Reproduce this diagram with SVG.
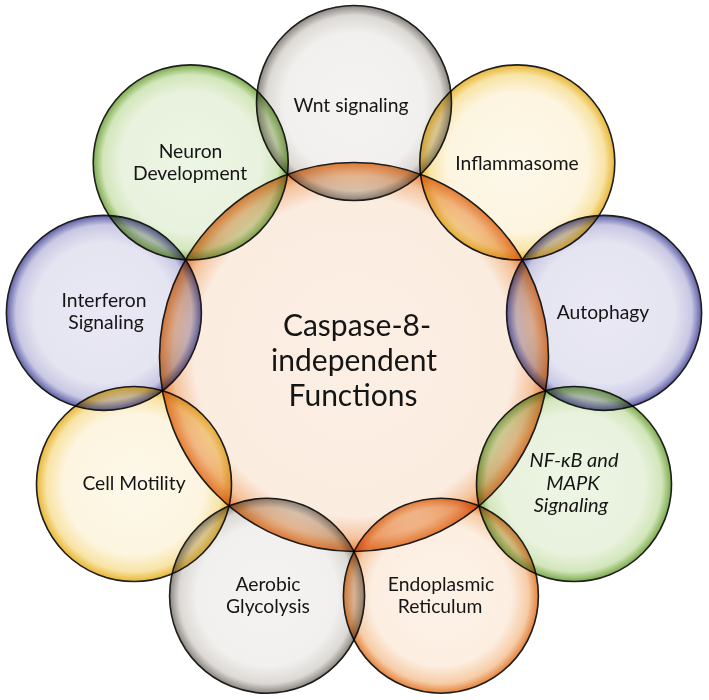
<svg xmlns="http://www.w3.org/2000/svg" width="709" height="700" viewBox="0 0 709 700">
<style>
  .c { stroke: #1e1e1e; stroke-width: 1.6; }
  .n { mix-blend-mode: multiply; }
  text { font-family: Lato, "Open Sans", "Liberation Sans", sans-serif; fill: #151515; text-anchor: middle; }
  .t { font-size: 19.3px; }
  .it { font-style: italic; font-size: 20px; }
  .big { font-size: 30px; }
</style>
<defs>
  <radialGradient id="gGray"><stop offset="0" stop-color="#f4f3f1"/><stop offset="0.72" stop-color="#f1f0ee"/><stop offset="0.9" stop-color="#dcd9d5"/><stop offset="1" stop-color="#8a857f"/></radialGradient>
  <radialGradient id="gYel"><stop offset="0" stop-color="#fdf8ea"/><stop offset="0.72" stop-color="#fdf5e0"/><stop offset="0.9" stop-color="#f8e4a6"/><stop offset="1" stop-color="#e8b634"/></radialGradient>
  <radialGradient id="gPur"><stop offset="0" stop-color="#e9e8f4"/><stop offset="0.72" stop-color="#e5e4f1"/><stop offset="0.9" stop-color="#c9c8e4"/><stop offset="1" stop-color="#5e5ea6"/></radialGradient>
  <radialGradient id="gGrn"><stop offset="0" stop-color="#edf5e4"/><stop offset="0.72" stop-color="#e9f2de"/><stop offset="0.9" stop-color="#d2e6ba"/><stop offset="1" stop-color="#7cab4c"/></radialGradient>
  <radialGradient id="gOra"><stop offset="0" stop-color="#fdf2e7"/><stop offset="0.72" stop-color="#fceee1"/><stop offset="0.9" stop-color="#f6cca6"/><stop offset="1" stop-color="#e5813a"/></radialGradient>
  <radialGradient id="gCen"><stop offset="0" stop-color="#fcefe3"/><stop offset="0.82" stop-color="#fbece0"/><stop offset="0.93" stop-color="#f4c39c"/><stop offset="1" stop-color="#e6813a"/></radialGradient>
</defs>
<rect width="709" height="700" fill="#ffffff"/>
<g id="center" class="n">
  <circle class="c" cx="354" cy="357" r="194.5" fill="url(#gCen)"/>
  <text class="big" x="357" y="336">Caspase-8-</text>
  <text class="big" x="354" y="371">independent</text>
  <text class="big" x="353" y="406">Functions</text>
</g>
<g id="wnt" class="n">
  <circle class="c" cx="354" cy="103" r="97.5" fill="url(#gGray)"/>
  <text class="t" x="351" y="112">Wnt signaling</text>
</g>
<g id="inflammasome" class="n">
  <circle class="c" cx="517.3" cy="162.4" r="97.5" fill="url(#gYel)"/>
  <text class="t" x="517" y="170">Inflammasome</text>
</g>
<g id="autophagy" class="n">
  <circle class="c" cx="604.1" cy="312.9" r="97.5" fill="url(#gPur)"/>
  <text class="t" x="603" y="319">Autophagy</text>
</g>
<g id="nfkb" class="n">
  <circle class="c" cx="574" cy="484" r="97.5" fill="url(#gGrn)"/>
  <text class="it" x="574" y="467">NF-κB and</text>
  <text class="it" x="573" y="490">MAPK</text>
  <text class="it" x="571" y="512">Signaling</text>
</g>
<g id="er" class="n">
  <circle class="c" cx="440.9" cy="595.7" r="97.5" fill="url(#gOra)"/>
  <text class="t" x="441" y="591">Endoplasmic</text>
  <text class="t" x="440" y="613">Reticulum</text>
</g>
<g id="glycolysis" class="n">
  <circle class="c" cx="267.1" cy="595.7" r="97.5" fill="url(#gGray)"/>
  <text class="t" x="268" y="591">Aerobic</text>
  <text class="t" x="268" y="613">Glycolysis</text>
</g>
<g id="motility" class="n">
  <circle class="c" cx="134" cy="484" r="97.5" fill="url(#gYel)"/>
  <text class="t" x="134" y="490">Cell Motility</text>
</g>
<g id="interferon" class="n">
  <circle class="c" cx="103.9" cy="312.9" r="97.5" fill="url(#gPur)"/>
  <text class="t" x="104" y="307">Interferon</text>
  <text class="t" x="106" y="329">Signaling</text>
</g>
<g id="neuron" class="n">
  <circle class="c" cx="190.7" cy="162.4" r="97.5" fill="url(#gGrn)"/>
  <text class="t" x="190.5" y="158">Neuron</text>
  <text class="t" x="190" y="180">Development</text>
</g>
<g id="connectors"></g>
</svg>
